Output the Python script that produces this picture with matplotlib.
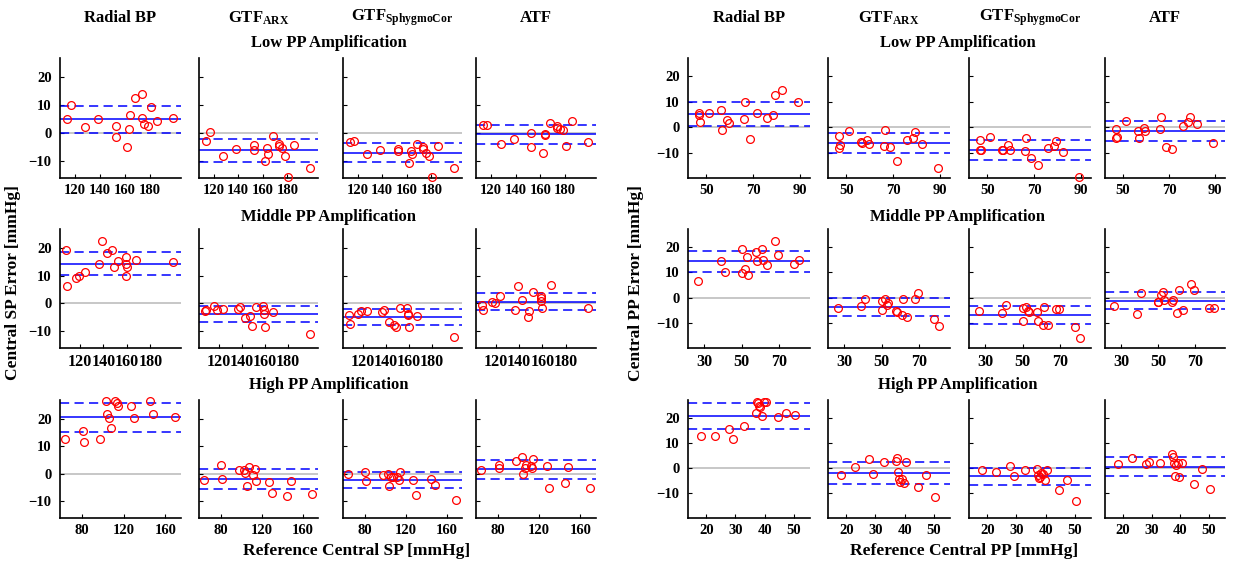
import numpy as np
import matplotlib
matplotlib.use('Agg')
import matplotlib.pyplot as plt

plt.rcParams['font.family'] = 'Liberation Serif'
plt.rcParams['font.weight'] = 'bold'
plt.rcParams['mathtext.fontset'] = 'custom'
plt.rcParams['mathtext.rm'] = 'Liberation Serif:bold'
plt.rcParams['mathtext.it'] = 'Liberation Serif:bold'
plt.rcParams['mathtext.bf'] = 'Liberation Serif:bold'

# ---------------- data ----------------
methods = ['Radial BP', r'GTF$_{\mathrm{ARX}}$', r'GTF$_{\mathrm{SphygmoCor}}$', 'ATF']
groups = ['Low PP Amplification', 'Middle PP Amplification', 'High PP Amplification']

# reference central SP [mmHg]
sp_ref_low = [113.5, 116.6, 127.9, 138.4, 152.7, 152.8, 161.9, 163.5, 164.0, 168.2, 173.4, 173.5, 175.5, 178.3, 180.9, 185.8, 198.3]
sp_ref_mid = [108.0, 108.8, 116.4, 118.9, 123.9, 136.4, 138.9, 142.6, 147.5, 148.6, 152.2, 158.8, 158.9, 159.0, 159.9, 167.4, 199.3]
sp_ref_high = [63.6, 80.8, 81.6, 97.6, 103.1, 104.2, 106.0, 107.7, 112.1, 113.5, 114.4, 127.4, 130.0, 145.2, 148.3, 169.2]

# central SP error [mmHg]
sp_low_radial = [5.0, 9.8, 2.0, 5.0, 2.4, -1.5, -5.0, 1.4, 6.3, 12.3, 13.9, 5.4, 3.2, 2.6, 9.3, 4.4, 5.4]
sp_low_arx = [-3.0, 0.2, -8.0, -5.6, -4.2, -6.2, -9.9, -5.4, -7.4, -1.0, -3.8, -4.5, -5.4, -8.3, -15.7, -4.2, -12.6]
sp_low_sphyg = [-3.3, -2.7, -7.4, -6.2, -5.6, -6.5, -10.7, -6.5, -7.4, -3.8, -4.8, -5.7, -7.1, -8.0, -15.8, -4.5, -12.5]
sp_low_atf = [2.7, 3.0, -3.9, -2.1, 0.0, -5.0, -7.1, -0.6, -0.5, 3.6, 1.8, 2.4, 1.4, 1.0, -4.5, 4.2, -3.2]

sp_mid_radial = [19.3, 6.1, 9.1, 9.7, 11.4, 14.3, 22.3, 18.1, 19.1, 13.1, 15.1, 16.6, 14.3, 10.0, 13.0, 15.7, 14.9]
sp_mid_arx = [-2.9, -2.3, -0.8, -2.3, -2.0, -2.0, -1.3, -5.3, -4.4, -8.0, -1.3, -1.1, -2.5, -3.7, -8.3, -3.2, -11.0]
sp_mid_sphyg = [-4.1, -7.4, -3.7, -2.6, -2.9, -3.2, -2.5, -6.5, -7.7, -8.3, -1.7, -1.7, -3.8, -4.1, -8.3, -4.4, -12.1]
sp_mid_atf = [-0.5, -2.3, 0.5, 0.1, 2.8, -2.5, 6.1, 1.3, -4.7, -2.9, 4.1, 2.8, 1.9, 0.7, -1.7, 6.5, -1.7]

sp_high_radial = [12.5, 15.4, 11.6, 12.5, 26.5, 21.8, 20.2, 16.4, 26.3, 25.6, 24.4, 24.4, 20.2, 26.3, 21.6, 20.6]
sp_high_arx = [-2.4, 3.2, -1.8, 1.4, 1.4, 0.2, -4.5, 2.4, -0.4, 1.7, -2.5, -3.1, -7.0, -8.1, -2.5, -7.3]
sp_high_sphyg = [-0.1, 0.6, -2.5, -0.6, -0.1, -4.5, -1.0, -1.0, -1.0, -2.4, 0.6, -2.4, -7.7, -1.8, -3.9, -9.5]
sp_high_atf = [1.5, 3.1, 2.2, 4.6, 6.1, 0.1, 2.2, 3.2, 2.8, 2.1, 5.4, 2.8, -5.0, -3.3, 2.4, -5.0]

# reference central PP [mmHg]
pp_ref_low = [46.8, 47.1, 47.4, 51.3, 56.4, 56.9, 58.9, 59.7, 66.0, 66.5, 68.8, 71.4, 75.9, 78.3, 79.1, 82.2, 89.1]
pp_ref_mid = [26.4, 38.8, 41.0, 50.0, 50.3, 51.5, 52.6, 53.6, 57.7, 58.1, 60.6, 61.5, 63.6, 67.8, 69.5, 78.0, 80.5]
pp_ref_high = [18.2, 23.0, 27.9, 29.2, 32.9, 37.1, 37.4, 37.8, 38.1, 38.4, 39.2, 39.7, 40.5, 44.7, 47.4, 50.5]

# central PP error [mmHg]
pp_low_radial = [5.5, 4.8, 2.2, 5.5, 6.8, -1.3, 2.9, 1.8, 3.1, 10.0, -4.6, 5.7, 3.5, 4.8, 12.6, 14.5, 9.8]
pp_low_arx = [-3.4, -8.2, -6.9, -1.4, -5.9, -6.3, -5.0, -6.6, -7.3, -1.0, -8.0, -13.2, -5.2, -4.3, -2.1, -6.6, -16.0]
pp_low_sphyg = [-5.0, -8.9, -9.1, -3.7, -8.9, -9.0, -7.2, -9.0, -9.5, -4.3, -12.1, -15.0, -8.2, -7.3, -5.3, -9.8, -19.6]
pp_low_atf = [-0.8, -4.3, -4.0, 2.5, -1.7, -4.3, -0.4, -1.4, -0.7, 3.8, -7.8, -8.5, 0.3, 2.2, 3.8, 1.2, -6.3]

pp_mid_radial = [6.4, 14.6, 10.1, 19.3, 9.7, 11.3, 15.9, 9.0, 18.1, 14.6, 19.3, 15.0, 13.0, 22.5, 16.8, 13.2, 15.0]
pp_mid_arx = [-4.0, -3.3, -0.7, -1.2, -4.9, -0.7, -2.9, -2.3, -5.2, -5.6, -6.9, -0.7, -7.8, -0.7, 2.0, -8.3, -11.3]
pp_mid_sphyg = [-5.2, -6.0, -2.8, -4.0, -9.1, -3.8, -5.2, -5.8, -5.6, -9.1, -10.9, -3.6, -10.9, -4.5, -4.6, -11.8, -15.9]
pp_mid_atf = [-3.3, -6.5, 1.9, -1.6, -1.9, 0.9, 2.1, -1.1, -1.9, -0.9, -6.0, 2.9, -4.9, 5.4, 3.0, -4.2, -4.2]

pp_high_radial = [12.8, 12.8, 15.8, 11.8, 16.8, 22.0, 26.6, 25.9, 24.7, 24.3, 20.7, 26.6, 26.4, 20.4, 22.0, 21.2]
pp_high_arx = [-2.6, 0.4, 3.8, -2.2, 2.5, 3.0, 3.9, -1.6, -4.3, -5.4, -4.2, -5.9, 2.5, -7.6, -2.6, -11.6]
pp_high_sphyg = [-0.9, -1.6, 0.7, -3.3, -0.9, -0.3, -2.9, -3.9, -3.6, -2.0, -2.2, -4.6, -0.9, -8.6, -4.9, -13.2]
pp_high_atf = [1.8, 3.9, 1.8, 2.6, 2.0, 5.7, 4.6, 2.0, -3.0, 1.3, 2.0, -3.6, 2.2, -6.4, -0.5, -8.3]

# axis settings per row
sp_xlims = [(108, 205), (103, 206), (59, 175)]
sp_xticks = [[120, 140, 160, 180], [120, 140, 160, 180], [80, 120, 160]]
pp_xlims = [(42.2, 94.2), (21.3, 86.5), (13.7, 55.6)]
pp_xticks = [[50, 70, 90], [30, 50, 70], [20, 30, 40, 50]]
sp_ylim = (-16, 26.7)
pp_ylim = (-20, 27.2)
yticks = [-10, 0, 10, 20]
xtick_size = [10.5, 11.6, 10.5]   # middle row tick labels are set wider in the original

sp_refs = [sp_ref_low, sp_ref_mid, sp_ref_high]
sp_errs = [[sp_low_radial, sp_low_arx, sp_low_sphyg, sp_low_atf],
           [sp_mid_radial, sp_mid_arx, sp_mid_sphyg, sp_mid_atf],
           [sp_high_radial, sp_high_arx, sp_high_sphyg, sp_high_atf]]
pp_refs = [pp_ref_low, pp_ref_mid, pp_ref_high]
pp_errs = [[pp_low_radial, pp_low_arx, pp_low_sphyg, pp_low_atf],
           [pp_mid_radial, pp_mid_arx, pp_mid_sphyg, pp_mid_atf],
           [pp_high_radial, pp_high_arx, pp_high_sphyg, pp_high_atf]]

# ---------------- layout (pixels) ----------------
W, H = 1234, 564
cols_sp = [(60, 181), (199, 318), (343, 462), (476, 596)]
cols_pp = [(688, 810), (828, 950), (969, 1091), (1105, 1225)]
rows = [(58, 178), (229, 348), (400, 518)]
row_title_y = [43, 217, 385]


def rect(l, r, t, b):
    return [l / W, 1 - b / H, (r - l) / W, (b - t) / H]


def txt(fig, x, y, s, **kw):
    fig.text(x / W, 1 - y / H, s, ha='center', va='center', fontweight='bold', **kw)


def panel(ax, x, y, xlim, xticks, ylim, first, xsize):
    x = np.asarray(x)
    y = np.asarray(y)
    m = y.mean()
    s = y.std(ddof=1)
    ax.axhline(0, color='0.74', lw=1.2, zorder=1)
    ax.axhline(m, color='b', lw=1.1, zorder=2)
    ax.axhline(m + s, color='b', lw=1.1, ls=(0, (6, 3.5)), zorder=2)
    ax.axhline(m - s, color='b', lw=1.1, ls=(0, (6, 3.5)), zorder=2)
    ax.plot(x, y, 'o', mfc='none', mec='r', ms=5.6, mew=0.9, zorder=3, clip_on=False)
    ax.set_xlim(xlim)
    ax.set_ylim(ylim)
    ax.set_xticks(xticks)
    ax.set_yticks(yticks)
    if not first:
        ax.set_yticklabels([])
    for sp in ['top', 'right']:
        ax.spines[sp].set_visible(False)
    for sp in ['left', 'bottom']:
        ax.spines[sp].set_linewidth(1.2)
    ax.tick_params(axis='both', direction='in', length=3, width=0.8, labelsize=10.5)
    ax.tick_params(axis='x', pad=4, labelsize=xsize)
    ax.tick_params(axis='y', pad=6)
    for lab in ax.get_xticklabels() + ax.get_yticklabels():
        lab.set_fontweight('bold')


fig = plt.figure(figsize=(W / 100, H / 100), dpi=100)

for cols, refs, errs, xlims, xticks, ylim in [
        (cols_sp, sp_refs, sp_errs, sp_xlims, sp_xticks, sp_ylim),
        (cols_pp, pp_refs, pp_errs, pp_xlims, pp_xticks, pp_ylim)]:
    for i, (t, b) in enumerate(rows):
        for j, (l, r) in enumerate(cols):
            ax = fig.add_axes(rect(l, r, t, b))
            panel(ax, refs[i], errs[i][j], xlims[i], xticks[i], ylim, j == 0, xtick_size[i])
    for j, (l, r) in enumerate(cols):
        txt(fig, (l + r) / 2, 18, methods[j], fontsize=12)
    for i in range(3):
        txt(fig, (cols[1][1] + cols[2][0]) / 2 - 2, row_title_y[i], groups[i], fontsize=12)

txt(fig, 13, 283, 'Central SP Error [mmHg]', fontsize=12.5, rotation=90)
txt(fig, 636, 283, 'Central PP Error [mmHg]', fontsize=12.5, rotation=90)
txt(fig, 357, 551, 'Reference Central SP [mmHg]', fontsize=12.5)
txt(fig, 964, 551, 'Reference Central PP [mmHg]', fontsize=12.5)

fig.savefig('out.png', dpi=100, facecolor='white')
